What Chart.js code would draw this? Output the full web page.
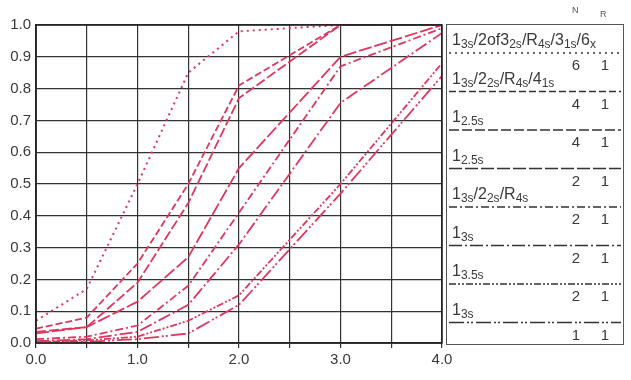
<!DOCTYPE html>
<html>
<head>
<meta charset="utf-8">
<script src="https://cdn.jsdelivr.net/npm/chart.js@4/dist/chart.umd.min.js"></script>
<style>
  html, body { margin: 0; padding: 0; background: #fff; }
  #wrap { position: relative; width: 631px; height: 380px; font-family: "Liberation Sans", Arial, sans-serif; color: #3a3a3a; }
  #legend { position: absolute; left: 446px; top: 24px; width: 176px; height: 319px; border: 1.5px solid #555; }
  #legend svg { position: absolute; left: 0; top: 0; }
  .lab { position: absolute; left: 5px; font-size: 16px; line-height: 16px; white-space: nowrap; }
  .lab sub { font-size: 12px; vertical-align: -3px; line-height: 0; }
  .num { position: absolute; font-size: 15px; line-height: 15px; width: 20px; text-align: center; }
  .head { position: absolute; font-size: 9px; color: #555; }
</style>
</head>
<body>
<div id="wrap">
  <canvas id="chart" width="631" height="380"></canvas>
  <div class="head" style="left:572px; top:5px;">N</div>
  <div class="head" style="left:600px; top:9px;">R</div>
  <div id="legend"></div>
</div>
<script>
// Valeurs (probabilité de rejet vs erreur systématique)
const shifts = [0.0, 0.5, 1.0, 1.5, 2.0, 3.0, 4.0];

const multi6 = [0.07, 0.17, 0.50, 0.85, 0.98, 1.00, 1.00];
const multi4 = [0.045, 0.08, 0.25, 0.50, 0.81, 1.00, 1.00];
const r25n4  = [0.035, 0.05, 0.19, 0.44, 0.77, 1.00, 1.00];
const r25n2  = [0.03, 0.05, 0.13, 0.27, 0.55, 0.90, 1.00];
const multi2 = [0.012, 0.02, 0.055, 0.18, 0.41, 0.87, 0.99];
const r3n2   = [0.006, 0.012, 0.035, 0.12, 0.31, 0.755, 0.975];
const r35n2  = [0.003, 0.008, 0.02, 0.07, 0.15, 0.50, 0.88];
const r3n1   = [0.002, 0.004, 0.012, 0.03, 0.12, 0.47, 0.84];

const ruleLabels = [
    '1<sub>3s</sub>/2of3<sub>2s</sub>/R<sub>4s</sub>/3<sub>1s</sub>/6<sub>x</sub>',
    '1<sub>3s</sub>/2<sub>2s</sub>/R<sub>4s</sub>/4<sub>1s</sub>',
    '1<sub>2.5s</sub>',
    '1<sub>2.5s</sub>',
    '1<sub>3s</sub>/2<sub>2s</sub>/R<sub>4s</sub>',
    '1<sub>3s</sub>',
    '1<sub>3.5s</sub>',
    '1<sub>3s</sub>'
];
const ruleN = [6, 4, 4, 2, 2, 2, 2, 1];
const ruleR = [1, 1, 1, 1, 1, 1, 1, 1];

const series = [multi6, multi4, r25n4, r25n2, multi2, r3n2, r35n2, r3n1];
const dashes = [
    [2, 4],
    [7, 3],
    [10, 3],
    [13, 3],
    [8, 3, 2, 3],
    [13, 3, 2, 3],
    [7, 2, 2, 2, 2, 2],
    [15, 3, 2, 2, 2, 3]
];

const RED = '#e0365e';
const GRID = '#333';

// Construire les datasets
const datasets = series.map((vals, i) => ({
    label: ruleLabels[i],
    data: shifts.map((x, k) => ({ x: x, y: vals[k] })),
    borderColor: RED,
    borderWidth: i === 0 ? 2 : 1.8,
    borderDash: dashes[i],
    pointRadius: 0,
    tension: 0,
    fill: false
}));

new Chart(document.getElementById('chart').getContext('2d'), {
    type: 'line',
    data: { datasets: datasets },
    options: {
        responsive: false,
        animation: false,
        layout: { padding: { left: 0, right: 189, top: 25, bottom: 0 } },
        plugins: { legend: { display: false }, tooltip: { enabled: false } },
        scales: {
            x: {
                type: 'linear',
                min: 0,
                max: 4,
                afterFit: s => { s.height = 37; },
                ticks: {
                    stepSize: 0.5,
                    autoSkip: false,
                    maxRotation: 0,
                    padding: 3,
                    color: '#3a3a3a',
                    font: { family: 'Liberation Sans', size: 15 },
                    callback: v => Number.isInteger(v) ? v.toFixed(1) : ''
                },
                grid: { color: GRID, lineWidth: 1.2, tickLength: 5 },
                border: { color: '#222', width: 1.5 }
            },
            y: {
                min: 0,
                max: 1,
                afterFit: s => { s.width = 36; },
                ticks: {
                    stepSize: 0.1,
                    padding: 5,
                    color: '#3a3a3a',
                    font: { family: 'Liberation Sans', size: 15 },
                    callback: v => v.toFixed(1)
                },
                grid: { color: GRID, lineWidth: 1.2, drawTicks: false },
                border: { color: '#222', width: 1.5 }
            }
        }
    },
    plugins: [{
        // cadre du haut et de droite
        id: 'frame',
        afterDraw(chart) {
            const a = chart.chartArea, c = chart.ctx;
            c.save();
            c.strokeStyle = '#222';
            c.lineWidth = 1.5;
            c.strokeRect(a.left, a.top, a.right - a.left, a.bottom - a.top);
            c.restore();
        }
    }]
});

// Légende à droite
const legend = document.getElementById('legend');
const rowTop = 28, rowStep = 38.5;
let svg = '<svg width="176" height="319">';
ruleLabels.forEach((lab, i) => {
    const y = rowTop + i * rowStep;
    svg += `<line x1="2" x2="174" y1="${y}" y2="${y}" stroke="#333" stroke-width="1.6" stroke-dasharray="${dashes[i].join(' ')}"/>`;
    legend.insertAdjacentHTML('beforeend',
        `<div class="lab" style="top:${y - 21}px">${lab}</div>` +
        `<div class="num" style="left:119px; top:${y + 4}px">${ruleN[i]}</div>` +
        `<div class="num" style="left:148px; top:${y + 4}px">${ruleR[i]}</div>`);
});
svg += '</svg>';
legend.insertAdjacentHTML('afterbegin', svg);
</script>
</body>
</html>
